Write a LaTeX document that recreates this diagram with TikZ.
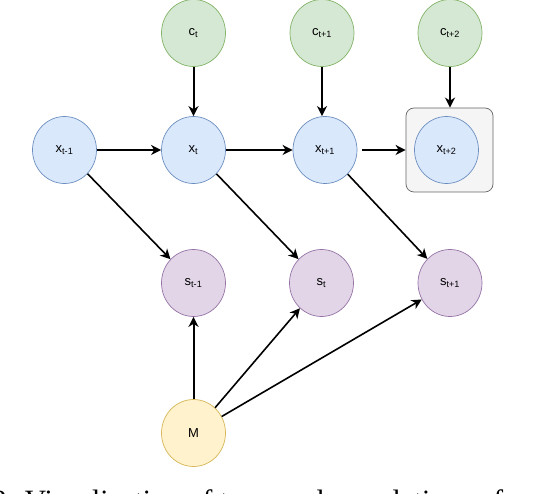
\documentclass[tikz,border=0pt]{standalone}
\usepackage{fontspec}
\setmainfont{Liberation Sans}
\newfontfamily\capfont{Liberation Serif}
\usetikzlibrary{shapes.geometric,arrows.meta}
\definecolor{bluefill}{HTML}{DAE8FC}\definecolor{bluedraw}{HTML}{6C8EBF}
\definecolor{greenfill}{HTML}{D5E8D4}\definecolor{greendraw}{HTML}{82B366}
\definecolor{purplefill}{HTML}{E1D5E7}\definecolor{purpledraw}{HTML}{9673A6}
\definecolor{yellowfill}{HTML}{FFF2CC}\definecolor{yellowdraw}{HTML}{D6B656}
\definecolor{boxfill}{HTML}{F5F5F5}\definecolor{boxdraw}{HTML}{666666}
\tikzset{
  var/.style={ellipse, minimum width=64pt, minimum height=67pt, inner sep=0pt, line width=0.7pt, font=\fontsize{13}{15}\selectfont},
  xnode/.style={var, fill=bluefill, draw=bluedraw},
  cnode/.style={var, fill=greenfill, draw=greendraw},
  snode/.style={var, fill=purplefill, draw=purpledraw},
  mnode/.style={var, fill=yellowfill, draw=yellowdraw},
  framebox/.style={rectangle, rounded corners=8pt, fill=boxfill, draw=boxdraw, line width=0.7pt, minimum width=87pt, minimum height=84pt},
  arr/.style={-{Stealth[length=10pt,width=10pt,inset=3pt]}, line width=2pt},
  darr/.style={-{Stealth[length=10pt,width=10pt,inset=3pt]}, line width=1.6pt},
}
\begin{document}
\begin{tikzpicture}[x=1pt,y=-1pt]
\clip (0,0) rectangle (542,494);
\fill[white] (0,0) rectangle (542,494);
% frame around x_{t+2}
\node[framebox] (box) at (449.5,150) {};
% nodes
\node[cnode] (ct)  at (193.5,33) {c\textsubscript{t}};
\node[cnode] (ct1) at (322,33)   {c\textsubscript{t+1}};
\node[cnode] (ct2) at (450,33)   {c\textsubscript{t+2}};
\node[xnode] (xtm1) at (64.5,150) {x\textsubscript{t-1}};
\node[xnode] (xt)   at (193.5,150) {x\textsubscript{t}};
\node[xnode] (xt1)  at (325,150) {x\textsubscript{t+1}};
\node[xnode] (xt2)  at (446.5,150) {x\textsubscript{t+2}};
\node[snode] (stm1) at (193.5,283) {s\textsubscript{t-1}};
\node[snode] (st)   at (321.5,283) {s\textsubscript{t}};
\node[snode] (st1)  at (450,283) {s\textsubscript{t+1}};
\node[mnode] (m)    at (193.5,433) {M};
% arrows
\draw[arr] (ct) -- (xt);
\draw[arr] (ct1.south) -- (ct1.south |- xt1.north);
\draw[arr] (ct2.south) -- (ct2.south |- box.north);
\draw[arr] (xtm1) -- (xt);
\draw[arr] (xt) -- (xt1);
\draw[arr, shorten <=5pt] (xt1) -- (box);
\draw[darr] (xtm1) -- (stm1);
\draw[darr] (xt) -- (st);
\draw[darr] (xt1) -- (st1);
\draw[arr] (m) -- (stm1);
\draw[darr] (m) -- (st);
\draw[darr] (m) -- (st1);
% caption, cut off by the lower edge as in the reference
\node[anchor=base west, inner sep=0pt, font=\capfont\fontsize{29.5}{30}\selectfont] (cap) at (-8,511) {2: Visualization of temporal correlations of each};
\end{tikzpicture}
\end{document}
